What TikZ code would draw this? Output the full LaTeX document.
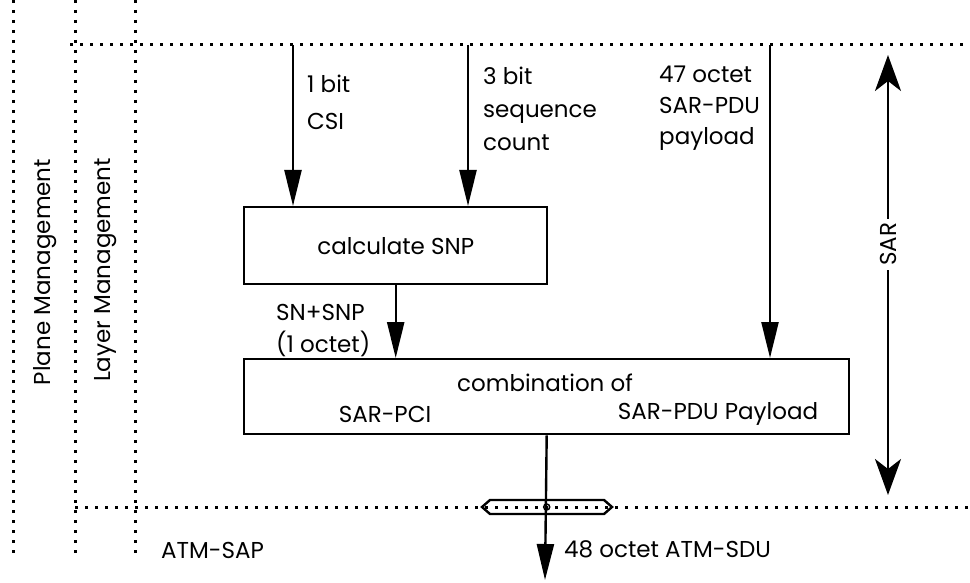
\documentclass[tikz,border=0pt]{standalone}
\usepackage{fontspec}
\setmainfont{Poppins}
\usetikzlibrary{arrows.meta}

\begin{document}
\begin{tikzpicture}[x=1pt,y=-1pt,line width=2.4pt,
  font=\fontsize{23}{33}\selectfont,
  box/.style={draw,anchor=north west,inner sep=0pt},
  lbl/.style={anchor=north west,align=left,inner sep=0pt},
  dots/.style={line width=3pt,dash pattern=on 3pt off 7pt},
  flow/.style={-{Triangle[length=36pt,width=17pt]}},
  span/.style={{Stealth[length=36pt,width=26pt,inset=10pt]}-{Stealth[length=36pt,width=26pt,inset=10pt]}}]
\useasboundingbox (0,0) rectangle (970,583);
% management planes and SAP boundaries
\draw[dots] (13,0) -- (13,553);
\draw[dots] (75,0) -- (75,553);
\draw[dots] (135,0) -- (135,553);
\draw[dots] (70,45) -- (970,45);
\draw[dots] (75,507) -- (970,507);
\node[rotate=90] (plane) at (45,272) {Plane Management};
\node[rotate=90] (layer) at (106,270) {Layer Management};
% processing boxes
\node[box,minimum width=303pt,minimum height=77pt] (snp) at (243,206) {calculate SNP};
\node[box,minimum width=605pt,minimum height=75pt] (comb) at (243,358) {};
\node (combt) at (545,383) {combination of};
\node (pci) at (385,414) {SAR-PCI};
\node (pdu) at (718,414) {SAR-PDU Payload};
% inputs
\coordinate (csi) at (293,45);
\coordinate (seq) at (468,45);
\coordinate (pay) at (770,45);
\draw[flow] (csi) -- (csi |- snp.north);
\draw[flow] (seq) -- (seq |- snp.north);
\draw[flow] (pay) -- (pay |- comb.north);
\draw[flow] (snp.south) -- (snp.south |- comb.north);
\node[lbl,font=\fontsize{23}{37}\selectfont] (csil) at (306,74) {1 bit\\CSI};
\node[lbl] (seql) at (482,66) {3 bit\\sequence\\count};
\node[lbl,font=\fontsize{23}{31}\selectfont] (payl) at (658,65) {47 octet\\SAR-PDU\\payload};
\node[lbl,font=\fontsize{23}{32}\selectfont] (snl) at (275,303) {SN+SNP\\(1 octet)};
% output through the SAP
\coordinate (sdu) at (545,580);
\draw (482,507) -- (490,500) -- (604,500) -- (612,507) -- (604,514) -- (490,514) -- cycle;
\draw[flow] (comb.south) -- (sdu);
\draw[line width=1.5pt] (comb.south |- 0,507) circle (3pt);
\node[lbl] (sdul) at (563,539) {48 octet ATM-SDU};
\node[lbl] (sap) at (160,541) {ATM-SAP};
% sublayer extent
\coordinate (sartop) at (888,55);
\coordinate (sarbot) at (888,495);
\draw[span] (sartop) -- (sarbot) node[pos=0.43,rotate=90,fill=white,inner sep=4pt] (sar) {SAR};
\end{tikzpicture}
\end{document}
